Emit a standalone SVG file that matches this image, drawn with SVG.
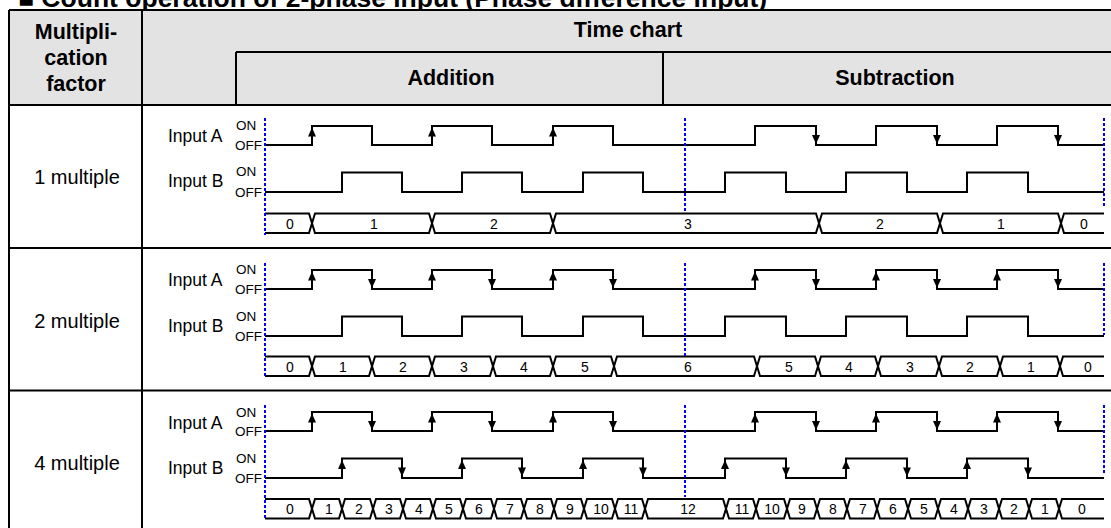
<svg xmlns="http://www.w3.org/2000/svg" xmlns:xlink="http://www.w3.org/1999/xlink" width="1111" height="528" viewBox="0 0 1111 528">
<style>
text{font-family:"Liberation Sans",Arial,sans-serif;fill:#000}
.title{font-size:26.5px;font-weight:bold}
.hd{font-size:21.5px;font-weight:bold;text-anchor:middle}
.lbl{font-size:20px;text-anchor:middle}
.inp{font-size:17.5px}
.st{font-size:13.5px}
.num{font-size:14px;text-anchor:middle}
.grid{stroke:#000;stroke-width:2;fill:none}
.wave{stroke:#000;stroke-width:2;fill:none}
.bus{stroke:#000;stroke-width:2;fill:none;stroke-linejoin:miter}
.dot{stroke:#0000ff;stroke-width:2;stroke-dasharray:3 2;fill:none}
</style>
<defs>
<path id="up" d="M0,0 L-4,9 L4,9 Z" fill="#000"/>
<path id="dn" d="M0,0 L-4,-9 L4,-9 Z" fill="#000"/>
<path id="waveA" class="wave" d="M265,19 H312 V0 H372 V19 H432 V0 H492 V19 H553 V0 H613 V19 H755 V0 H816 V19 H876 V0 H937 V19 H997 V0 H1058 V19 H1104"/>
<path id="waveB" class="wave" d="M265,19.5 H342 V0 H402 V19.5 H462 V0 H522 V19.5 H583 V0 H643 V19.5 H725 V0 H786 V19.5 H846 V0 H907 V19.5 H967 V0 H1028 V19.5 H1104"/>
</defs>

<text class="title" x="18" y="7">■ Count operation of 2-phase input (Phase difference input)</text>

<g id="table">
<rect x="9" y="10" width="1102" height="95" fill="#e3e3e3"/>
<path class="grid" d="M9,10 H1111 M9,10 V528 M142,10 V528 M236,52 H1111 M236,52 V105 M663,52 V105 M9,105 H1111 M9,248 H1111 M9,390.5 H1111"/>
<text class="hd" x="76" y="39">Multipli-</text>
<text class="hd" x="76" y="65">cation</text>
<text class="hd" x="76" y="91">factor</text>
<text class="hd" x="628" y="37">Time chart</text>
<text class="hd" x="451" y="85">Addition</text>
<text class="hd" x="895" y="85">Subtraction</text>
</g>

<g id="row1">
<text class="lbl" x="77" y="184">1 multiple</text>
<text class="inp" x="168" y="141.5">Input A</text>
<text class="inp" x="168" y="187">Input B</text>
<text class="st" x="236" y="129.5">ON</text>
<text class="st" x="235" y="149.5">OFF</text>
<text class="st" x="236" y="176">ON</text>
<text class="st" x="235" y="196.5">OFF</text>
<use xlink:href="#waveA" y="126"/>
<use xlink:href="#waveB" y="172.5"/>
<use xlink:href="#up" x="312" y="127.5"/>
<use xlink:href="#up" x="432" y="127.5"/>
<use xlink:href="#up" x="553" y="127.5"/>
<use xlink:href="#dn" x="816" y="144"/>
<use xlink:href="#dn" x="937" y="144"/>
<use xlink:href="#dn" x="1058" y="144"/>
<polyline class="bus" points="265,213.5 309,213.5 315,233 429,233 435,213.5 550,213.5 556,233 816,233 822,213.5 937,213.5 943,233 1058,233 1064,213.5 1104,213.5"/>
<polyline class="bus" points="265,233 309,233 315,213.5 429,213.5 435,233 550,233 556,213.5 816,213.5 822,233 937,233 943,213.5 1058,213.5 1064,233 1104,233"/>
<text class="num" x="290" y="228.5">0</text>
<text class="num" x="374" y="228.5">1</text>
<text class="num" x="494" y="228.5">2</text>
<text class="num" x="688" y="228.5">3</text>
<text class="num" x="880" y="228.5">2</text>
<text class="num" x="1001" y="228.5">1</text>
<text class="num" x="1084" y="228.5">0</text>
<path class="dot" d="M265,118 V235 M685,118 V213 M1104,118 V208"/>
</g>

<g id="row2">
<text class="lbl" x="77" y="328">2 multiple</text>
<text class="inp" x="168" y="286">Input A</text>
<text class="inp" x="168" y="331.5">Input B</text>
<text class="st" x="236" y="274">ON</text>
<text class="st" x="235" y="293.5">OFF</text>
<text class="st" x="236" y="320.5">ON</text>
<text class="st" x="235" y="340.5">OFF</text>
<use xlink:href="#waveA" y="270"/>
<use xlink:href="#waveB" y="316.5"/>
<use xlink:href="#up" x="312" y="271.5"/>
<use xlink:href="#up" x="432" y="271.5"/>
<use xlink:href="#up" x="553" y="271.5"/>
<use xlink:href="#up" x="755" y="271.5"/>
<use xlink:href="#up" x="876" y="271.5"/>
<use xlink:href="#up" x="997" y="271.5"/>
<use xlink:href="#dn" x="372" y="288"/>
<use xlink:href="#dn" x="492" y="288"/>
<use xlink:href="#dn" x="613" y="288"/>
<use xlink:href="#dn" x="816" y="288"/>
<use xlink:href="#dn" x="937" y="288"/>
<use xlink:href="#dn" x="1058" y="288"/>
<polyline class="bus" points="265,356.5 309,356.5 315,376 369,376 375,356.5 429,356.5 435,376 490,376 496,356.5 550,356.5 556,376 611,376 617,356.5 754,356.5 760,376 815,376 821,356.5 875,356.5 881,376 936,376 942,356.5 997,356.5 1003,376 1057,376 1063,356.5 1104,356.5"/>
<polyline class="bus" points="265,376 309,376 315,356.5 369,356.5 375,376 429,376 435,356.5 490,356.5 496,376 550,376 556,356.5 611,356.5 617,376 754,376 760,356.5 815,356.5 821,376 875,376 881,356.5 936,356.5 942,376 997,376 1003,356.5 1057,356.5 1063,376 1104,376"/>
<text class="num" x="290" y="371.5">0</text>
<text class="num" x="343" y="371.5">1</text>
<text class="num" x="403" y="371.5">2</text>
<text class="num" x="464" y="371.5">3</text>
<text class="num" x="524" y="371.5">4</text>
<text class="num" x="585" y="371.5">5</text>
<text class="num" x="688" y="371.5">6</text>
<text class="num" x="789" y="371.5">5</text>
<text class="num" x="849" y="371.5">4</text>
<text class="num" x="910" y="371.5">3</text>
<text class="num" x="970" y="371.5">2</text>
<text class="num" x="1031" y="371.5">1</text>
<text class="num" x="1088" y="371.5">0</text>
<path class="dot" d="M265,263 V378 M685,263 V356 M1104,263 V335"/>
</g>

<g id="row3">
<text class="lbl" x="77" y="470">4 multiple</text>
<text class="inp" x="168" y="429">Input A</text>
<text class="inp" x="168" y="473.5">Input B</text>
<text class="st" x="236" y="416.5">ON</text>
<text class="st" x="235" y="436">OFF</text>
<text class="st" x="236" y="462.5">ON</text>
<text class="st" x="235" y="483">OFF</text>
<use xlink:href="#waveA" y="412"/>
<use xlink:href="#waveB" y="458.5"/>
<use xlink:href="#up" x="312" y="413.5"/>
<use xlink:href="#up" x="432" y="413.5"/>
<use xlink:href="#up" x="553" y="413.5"/>
<use xlink:href="#up" x="755" y="413.5"/>
<use xlink:href="#up" x="876" y="413.5"/>
<use xlink:href="#up" x="997" y="413.5"/>
<use xlink:href="#dn" x="372" y="430"/>
<use xlink:href="#dn" x="492" y="430"/>
<use xlink:href="#dn" x="613" y="430"/>
<use xlink:href="#dn" x="816" y="430"/>
<use xlink:href="#dn" x="937" y="430"/>
<use xlink:href="#dn" x="1058" y="430"/>
<use xlink:href="#up" x="342" y="460"/>
<use xlink:href="#up" x="462" y="460"/>
<use xlink:href="#up" x="583" y="460"/>
<use xlink:href="#up" x="725" y="460"/>
<use xlink:href="#up" x="846" y="460"/>
<use xlink:href="#up" x="967" y="460"/>
<use xlink:href="#dn" x="402" y="476.5"/>
<use xlink:href="#dn" x="522" y="476.5"/>
<use xlink:href="#dn" x="643" y="476.5"/>
<use xlink:href="#dn" x="786" y="476.5"/>
<use xlink:href="#dn" x="907" y="476.5"/>
<use xlink:href="#dn" x="1028" y="476.5"/>
<polyline class="bus" points="265,499 309,499 315,518.5 339,518.5 345,499 370,499 376,518.5 400,518.5 406,499 430,499 436,518.5 460,518.5 466,499 491,499 497,518.5 521,518.5 527,499 551,499 557,518.5 581,518.5 587,499 612,499 618,518.5 642,518.5 648,499 723,499 729,518.5 753,518.5 759,499 784,499 790,518.5 814,518.5 820,499 844,499 850,518.5 874,518.5 880,499 905,499 911,518.5 935,518.5 941,499 965,499 971,518.5 996,518.5 1002,499 1026,499 1032,518.5 1056,518.5 1062,499 1104,499"/>
<polyline class="bus" points="265,518.5 309,518.5 315,499 339,499 345,518.5 370,518.5 376,499 400,499 406,518.5 430,518.5 436,499 460,499 466,518.5 491,518.5 497,499 521,499 527,518.5 551,518.5 557,499 581,499 587,518.5 612,518.5 618,499 642,499 648,518.5 723,518.5 729,499 753,499 759,518.5 784,518.5 790,499 814,499 820,518.5 844,518.5 850,499 874,499 880,518.5 905,518.5 911,499 935,499 941,518.5 965,518.5 971,499 996,499 1002,518.5 1026,518.5 1032,499 1056,499 1062,518.5 1104,518.5"/>
<text class="num" x="290" y="514">0</text>
<text class="num" x="329" y="514">1</text>
<text class="num" x="359" y="514">2</text>
<text class="num" x="389" y="514">3</text>
<text class="num" x="419" y="514">4</text>
<text class="num" x="449" y="514">5</text>
<text class="num" x="479" y="514">6</text>
<text class="num" x="510" y="514">7</text>
<text class="num" x="540" y="514">8</text>
<text class="num" x="570" y="514">9</text>
<text class="num" x="601" y="514">10</text>
<text class="num" x="631" y="514">11</text>
<text class="num" x="688" y="514">12</text>
<text class="num" x="742" y="514">11</text>
<text class="num" x="772" y="514">10</text>
<text class="num" x="802" y="514">9</text>
<text class="num" x="833" y="514">8</text>
<text class="num" x="863" y="514">7</text>
<text class="num" x="893" y="514">6</text>
<text class="num" x="924" y="514">5</text>
<text class="num" x="954" y="514">4</text>
<text class="num" x="984" y="514">3</text>
<text class="num" x="1014" y="514">2</text>
<text class="num" x="1045" y="514">1</text>
<text class="num" x="1082" y="514">0</text>
<path class="dot" d="M265,405 V518 M685,405 V497 M1104,405 V475"/>
</g>
</svg>
